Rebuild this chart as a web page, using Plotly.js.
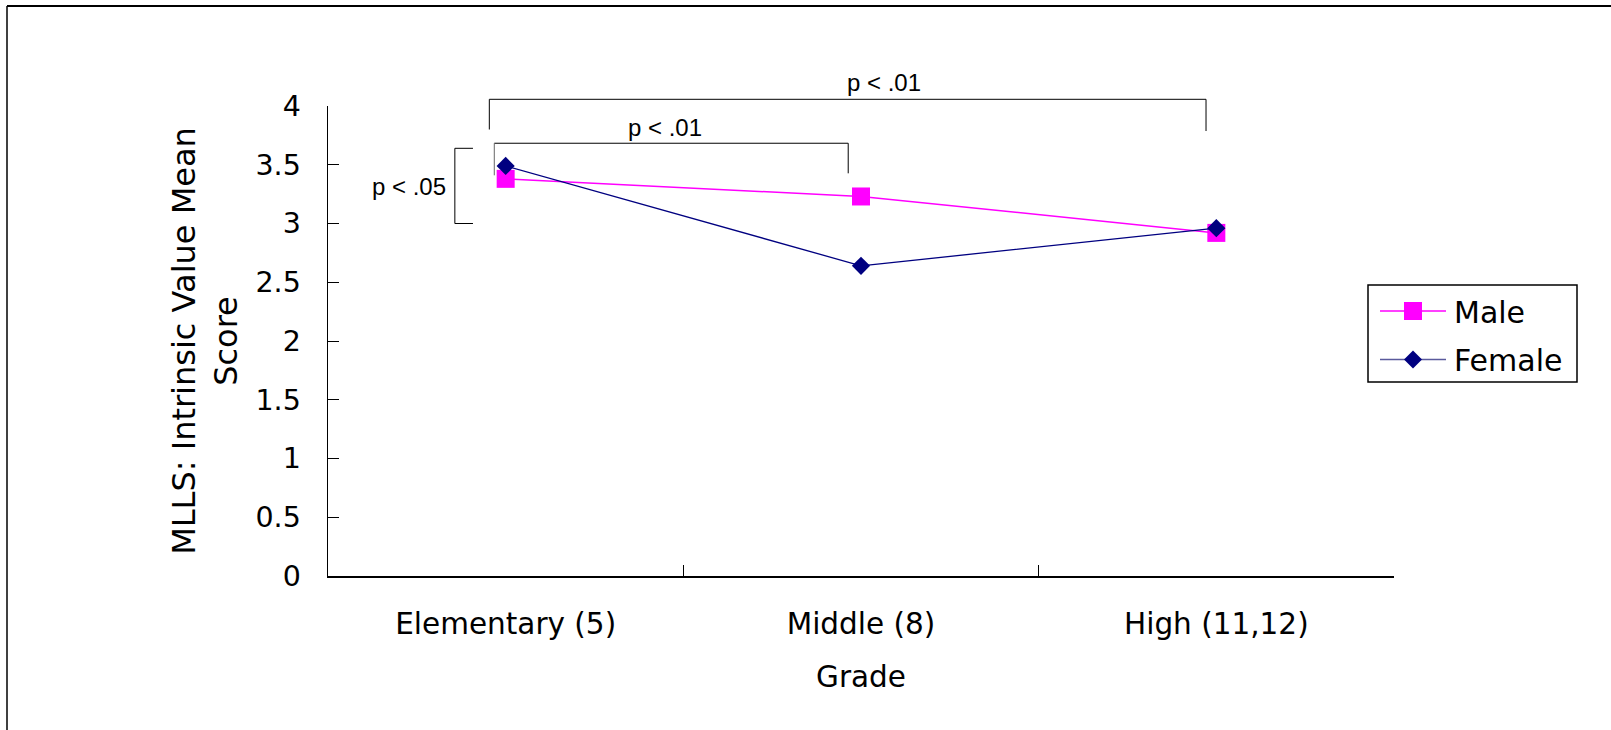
<!DOCTYPE html>
<html><head><meta charset="utf-8">
<script src="https://cdn.plot.ly/plotly-3.0.1.min.js"></script>
<style>html,body{margin:0;padding:0;background:#fff;} #chart{width:1611px;height:730px;}</style>
</head><body><div id="chart"></div>
<script>
// ---- data ----
const categories = ['Elementary (5)', 'Middle (8)', 'High (11,12)'];
const maleScores = [3.38, 3.23, 2.92];
const femaleScores = [3.49, 2.64, 2.96];
const seriesNames = ['Male', 'Female'];
const yTickValues = [0, 0.5, 1, 1.5, 2, 2.5, 3, 3.5, 4];
const yTickLabels = ['0', '0.5', '1', '1.5', '2', '2.5', '3', '3.5', '4'];
const sigLabels = ['p < .05', 'p < .01', 'p < .01'];
const xTitle = 'Grade';
const yTitle = 'MLLS: Intrinsic Value Mean<br>Score';

// ---- layout geometry ----
const W = 1611, H = 730;
const M = {l: 328, r: 217, t: 106, b: 154};
const PW = W - M.l - M.r, PH = H - M.t - M.b;
const xRange = [-0.5, 2.5], yRange = [0, 4];
const px = v => (v - M.l) / PW;            // pixel x -> paper
const py = v => (M.t + PH - v) / PH;       // pixel y -> paper
const cx = c => (c - xRange[0]) / (xRange[1] - xRange[0]); // category pos -> paper
const vy = v => (v - yRange[0]) / (yRange[1] - yRange[0]); // value -> paper

const MAG = '#FF00FF', NAVY = '#000080';
const FONT = 'DejaVu Sans, Noto Sans, sans-serif';
const PFONT = 'Liberation Sans, Arial, sans-serif';

const line = (x0, y0, x1, y1, color, width) => ({
  type: 'line', xref: 'paper', yref: 'paper', x0, y0, x1, y1,
  line: {color: color || '#000', width: width || 1}, layer: 'above'
});

const shapes = [];
// outer frame
shapes.push(line(px(7), py(6), px(1611), py(6), '#000', 2));
shapes.push(line(px(7), py(6), px(7), py(730), '#000', 1.5));

// significance brackets (category position / value units)
shapes.push(line(cx(-0.143), vy(3.64), cx(-0.143), vy(3.0)));
shapes.push(line(cx(-0.143), vy(3.64), cx(-0.092), vy(3.64)));
shapes.push(line(cx(-0.143), vy(3.0), cx(-0.092), vy(3.0)));
shapes.push(line(cx(-0.032), vy(3.683), cx(0.964), vy(3.683)));
shapes.push(line(cx(-0.032), vy(3.683), cx(-0.032), vy(3.41), '#666'));
shapes.push(line(cx(0.964), vy(3.683), cx(0.964), vy(3.427)));
shapes.push(line(cx(-0.046), vy(4.057), cx(1.971), vy(4.057)));
shapes.push(line(cx(-0.046), vy(4.057), cx(-0.046), vy(3.80)));
shapes.push(line(cx(1.971), vy(4.057), cx(1.971), vy(3.787)));

// custom legend
shapes.push({type: 'rect', xref: 'paper', yref: 'paper',
  x0: px(1368), x1: px(1577), y0: py(285), y1: py(382),
  line: {color: '#000', width: 1.5}, fillcolor: '#fff', layer: 'above'});
shapes.push(line(px(1380), py(311), px(1446), py(311), MAG, 1.5));
shapes.push(line(px(1380), py(359.5), px(1446), py(359.5), '#5a5a9c', 1.5));
shapes.push({type: 'rect', xref: 'paper', yref: 'paper',
  x0: px(1404), x1: px(1422), y0: py(302), y1: py(320),
  line: {width: 0}, fillcolor: MAG, layer: 'above'});
shapes.push({type: 'path', xref: 'paper', yref: 'paper',
  path: `M ${px(1413)},${py(350.5)} L ${px(1422)},${py(359.5)} L ${px(1413)},${py(368.5)} L ${px(1404)},${py(359.5)} Z`,
  line: {width: 0}, fillcolor: NAVY, layer: 'above'});

const annotations = [
  {text: sigLabels[0], xref: 'paper', yref: 'paper', x: cx(-0.271), y: vy(3.319)},
  {text: sigLabels[1], xref: 'paper', yref: 'paper', x: cx(0.448), y: vy(3.815)},
  {text: sigLabels[2], xref: 'paper', yref: 'paper', x: cx(1.065), y: vy(4.198)}
].map(a => Object.assign(a, {showarrow: false, xanchor: 'center', yanchor: 'middle',
  font: {family: PFONT, size: 24, color: '#000'}}));

annotations.push({text: seriesNames[0], xref: 'paper', yref: 'paper', x: px(1452), y: py(312),
  xanchor: 'left', yanchor: 'middle', showarrow: false, font: {family: FONT, size: 30, color: '#000'}});
annotations.push({text: seriesNames[1], xref: 'paper', yref: 'paper', x: px(1452), y: py(360),
  xanchor: 'left', yanchor: 'middle', showarrow: false, font: {family: FONT, size: 30, color: '#000'}});

const traces = [
  {x: categories, y: maleScores, name: seriesNames[0], type: 'scatter', mode: 'lines+markers',
   line: {color: MAG, width: 1.5}, marker: {symbol: 'square', size: 18, color: MAG},
   cliponaxis: false},
  {x: categories, y: femaleScores, name: seriesNames[1], type: 'scatter', mode: 'lines+markers',
   line: {color: NAVY, width: 1.3}, marker: {symbol: 'diamond', size: 14, color: NAVY},
   cliponaxis: false}
];

const layout = {
  width: W, height: H,
  margin: M,
  paper_bgcolor: '#fff', plot_bgcolor: '#fff',
  showlegend: false,
  font: {family: FONT, color: '#000'},
  xaxis: {
    type: 'category', range: xRange, automargin: false,
    showline: true, linecolor: '#000', linewidth: 1.5,
    ticks: 'inside', tickson: 'boundaries', ticklen: 11, tickcolor: '#000', tickwidth: 1,
    showgrid: false, zeroline: false,
    tickfont: {family: FONT, size: 29.5, color: '#000'},
    ticklabelstandoff: 21,
    title: {text: xTitle, font: {family: FONT, size: 29.5, color: '#000'}, standoff: 26}
  },
  yaxis: {
    range: yRange, automargin: false,
    tickvals: yTickValues, ticktext: yTickLabels,
    showline: true, linecolor: '#000', linewidth: 1.5,
    ticks: 'inside', ticklen: 11, tickcolor: '#000', tickwidth: 1,
    showgrid: false, zeroline: false,
    tickfont: {family: FONT, size: 28.5, color: '#000'},
    ticklabelstandoff: 20,
    title: {text: yTitle, font: {family: FONT, size: 32, color: '#000'}, standoff: 8}
  },
  shapes, annotations
};

Plotly.newPlot('chart', traces, layout, {staticPlot: true, displayModeBar: false});
</script>
</body></html>
